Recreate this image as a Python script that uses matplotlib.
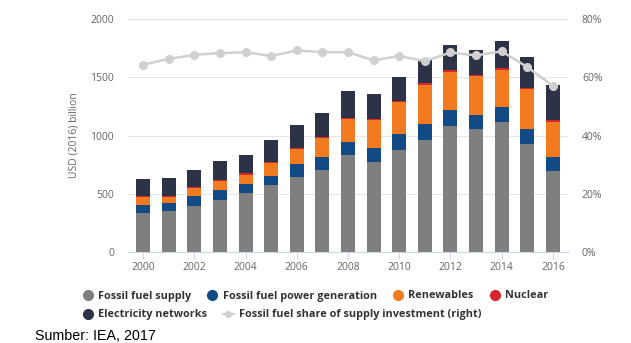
import matplotlib.pyplot as plt
from matplotlib.lines import Line2D
import numpy as np

plt.rcParams['font.family'] = ['Open Sans', 'DejaVu Sans']

years = list(range(2000, 2017))
fossil_supply = [333, 356, 396, 444, 510, 573, 644, 707, 836, 769, 875, 960, 1083, 1057, 1114, 929, 695]
fossil_power = [72, 63, 85, 86, 71, 79, 111, 111, 110, 120, 142, 137, 134, 120, 134, 131, 123]
renewables = [66, 55, 65, 78, 84, 113, 127, 161, 198, 246, 269, 337, 331, 332, 317, 335, 296]
nuclear = [10, 10, 10, 10, 10, 10, 10, 10, 10, 10, 10, 15, 10, 12, 15, 12, 23]
networks = [146, 151, 151, 160, 160, 185, 199, 205, 225, 208, 208, 208, 223, 214, 229, 265, 296]
fossil_share = [64.3, 66.3, 67.7, 68.3, 68.6, 67.3, 69.2, 68.6, 68.6, 65.8, 67.3, 65.5, 68.5, 67.5, 68.9, 63.5, 57.0]

series = [
    ('Fossil fuel supply', fossil_supply, '#7f7f7f'),
    ('Fossil fuel power generation', fossil_power, '#124a85'),
    ('Renewables', renewables, '#f47a20'),
    ('Nuclear', nuclear, '#d7262b'),
    ('Electricity networks', networks, '#2c3347'),
]

fig = plt.figure(figsize=(6.31, 3.43), dpi=100)
ax = fig.add_axes([128 / 631, 91 / 343, 440 / 631, 233 / 343])

bottom = np.zeros(len(years))
for name, vals, col in series:
    ax.bar(years, vals, width=0.55, bottom=bottom, color=col, zorder=2)
    bottom += np.array(vals)

ax.set_ylim(0, 2000)
ax.set_xlim(1999.41, 2016.59)
ax.set_yticks([0, 500, 1000, 1500, 2000])
ax.set_xticks(range(2000, 2017, 2))
ax.grid(axis='y', color='#e6e6e6', linewidth=0.8, zorder=0)
for s in ['top', 'right', 'left']:
    ax.spines[s].set_visible(False)
ax.spines['bottom'].set_color('#ccd6eb')
ax.tick_params(axis='y', length=0, labelsize=7.5, labelcolor='#666666', pad=10)
ax.tick_params(axis='x', length=5, width=0.8, color='#ccd6eb', labelsize=7.5,
               labelcolor='#666666', pad=2)
ax.set_ylabel('USD (2016) billion', fontsize=7.5, color='#666666', labelpad=8)

ax2 = ax.twinx()
ax2.plot(years, fossil_share, color='#d0d0d0', linewidth=1.8, marker='o',
         markersize=5.5, zorder=3)
ax2.set_ylim(0, 80)
ax2.set_yticks([0, 20, 40, 60, 80])
ax2.set_yticklabels(['0%', '20%', '40%', '60%', '80%'])
ax2.tick_params(axis='y', length=0, labelsize=7.5, labelcolor='#666666', pad=10)
for s in ax2.spines.values():
    s.set_visible(False)

def dot(col):
    return Line2D([], [], linestyle='none', marker='o', markersize=7, color=col)

row1 = [dot(c) for _, _, c in series[:4]]
row2 = [dot(series[4][2]),
        Line2D([], [], color='#d0d0d0', linewidth=1.5, marker='o', markersize=4)]
lbl1 = [n for n, _, _ in series[:4]]
lbl2 = [series[4][0], 'Fossil fuel share of supply investment (right)']

common = dict(frameon=False, handlelength=1.0, handletextpad=0.45, columnspacing=1.45,
              prop={'size': 7.8, 'weight': 'bold'}, labelcolor='#333333',
              borderaxespad=0, borderpad=0)
fig.legend(row1, lbl1, ncol=4, loc='center left', bbox_to_anchor=(82.5 / 631, 1 - 296 / 343), **common)
fig.legend(row2, lbl2, ncol=2, loc='center left', bbox_to_anchor=(82.5 / 631, 1 - 315 / 343), **common)

fig.text(35 / 631, 1 - 340 / 343, 'Sumber: IEA, 2017', fontsize=10.3, color='black',
         family='Liberation Sans', va='baseline')

fig.savefig('out.png', dpi=100)
